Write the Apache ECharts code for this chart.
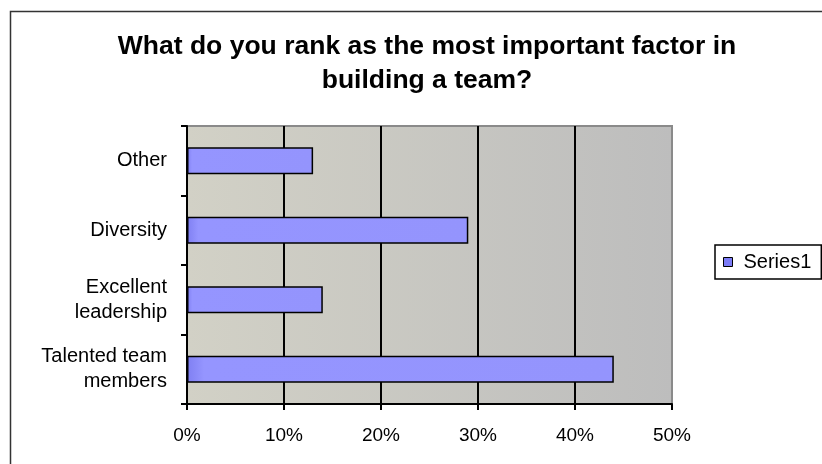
<!DOCTYPE html>
<html>
<head>
<meta charset="utf-8">
<script src="https://cdn.jsdelivr.net/npm/echarts@6/dist/echarts.min.js"></script>
<style>html,body{margin:0;padding:0;background:#fff;}#c{width:822px;height:464px;}</style>
</head>
<body>
<div id="c"></div>
<script>
const categories = ['Talented team\nmembers', 'Excellent\nleadership', 'Diversity', 'Other'];
const values = [44, 14, 29, 13];
const xTicks = [0, 10, 20, 30, 40, 50];
const seriesName = 'Series1';
const titleText = 'What do you rank as the most important factor in\nbuilding a team?';

const chart = echarts.init(document.getElementById('c'));
chart.setOption({
  animation: false,
  backgroundColor: '#fff',
  graphic: [{
    type: 'rect', z: -10,
    shape: { x: 10.5, y: 11.5, width: 900, height: 600 },
    style: { fill: 'none', stroke: '#333', lineWidth: 1.5 }
  }],
  title: {
    text: titleText,
    left: 422, top: 25, textAlign: 'center',
    textStyle: { fontFamily: 'Liberation Sans', fontWeight: 'bold', fontSize: 26.5, lineHeight: 34, color: '#000' }
  },
  legend: {
    left: 715, top: 245,
    data: [seriesName],
    itemWidth: 9, itemHeight: 9,
    padding: [7, 10, 7, 8],
    backgroundColor: '#fff',
    borderColor: '#000', borderWidth: 1.5, borderRadius: 0,
    icon: 'rect',
    itemStyle: { color: '#7b7bf6', borderColor: '#000', borderWidth: 1 },
    textStyle: { fontFamily: 'Liberation Sans', fontSize: 20, color: '#000', padding: [0, 0, 0, 6] }
  },
  grid: {
    left: 187, right: 150, top: 126, bottom: 60,
    show: true,
    borderColor: '#8a8a8a', borderWidth: 2,
    backgroundColor: new echarts.graphic.LinearGradient(0, 0, 1, 0, [
      { offset: 0, color: '#d2d1c6' },
      { offset: 1, color: '#bdbdbd' }
    ])
  },
  xAxis: {
    type: 'value', min: 0, max: 50, interval: 10,
    axisLine: { show: true, lineStyle: { color: '#000', width: 2 } },
    axisTick: { show: true, length: 6, lineStyle: { color: '#000', width: 2 } },
    axisLabel: {
      formatter: v => v + '%', margin: 22,
      fontFamily: 'Liberation Sans', fontSize: 19, color: '#000'
    },
    splitLine: { show: true, lineStyle: { color: ['#000', '#000', '#000', '#000', '#000', 'rgba(0,0,0,0)'], width: 2 } }
  },
  yAxis: {
    type: 'category', data: categories,
    axisLine: { show: true, lineStyle: { color: '#000', width: 2 } },
    axisTick: { show: true, length: 6, lineStyle: { color: '#000', width: 2 } },
    axisLabel: {
      margin: 20, align: 'right',
      fontFamily: 'Liberation Sans', fontSize: 20, lineHeight: 25, color: '#000'
    }
  },
  series: [{
    name: seriesName, type: 'bar', data: values,
    barCategoryGap: '61%',
    itemStyle: {
      color: new echarts.graphic.LinearGradient(0, 0, 1, 0, [
        { offset: 0, color: '#7f7ff2' },
        { offset: 0.04, color: '#9595ff' },
        { offset: 1, color: '#9494fd' }
      ]),
      borderColor: '#000', borderWidth: 1.5
    }
  }]
});
</script>
</body>
</html>
